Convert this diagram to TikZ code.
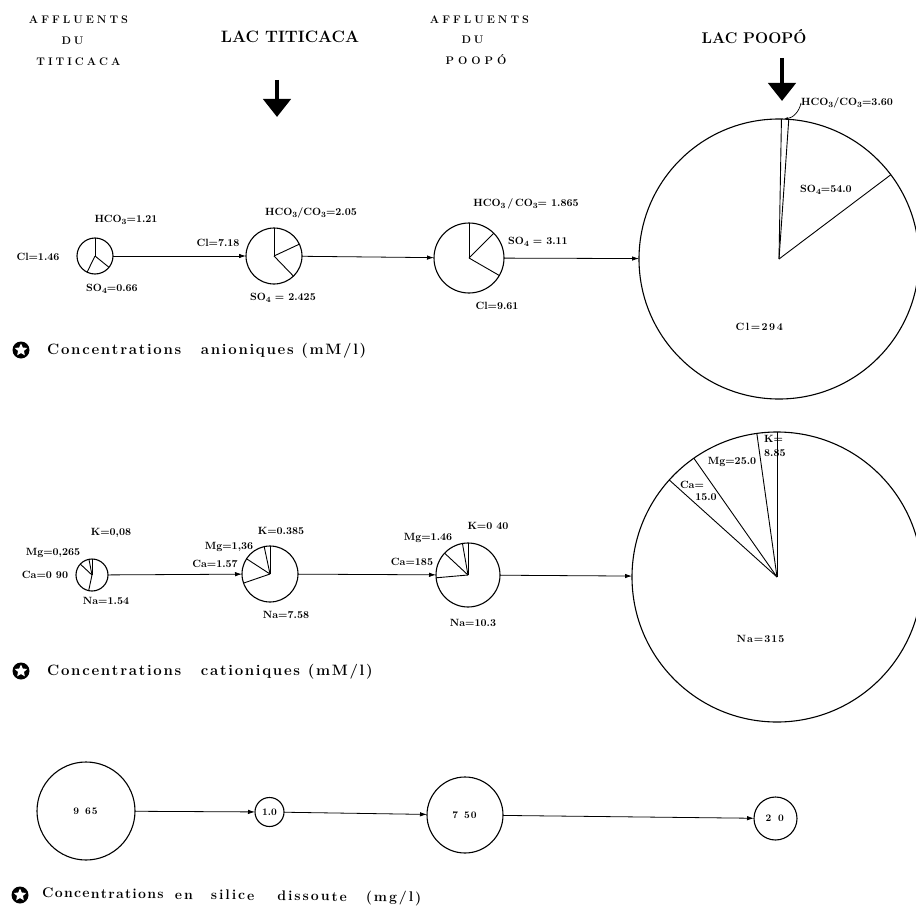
\documentclass[tikz,border=0pt]{standalone}
\usepackage{fontspec}
\usetikzlibrary{arrows.meta,shapes.geometric}
\newdimen\trkd
\newcommand\trk[2]{\trkd=#1\relax\trkloop#2\relax}
\def\trkloop#1{\ifx#1\relax\else#1\kern\trkd\expandafter\trkloop\fi}
\newcommand\lblf{\fontsize{10.5}{11}\selectfont\bfseries}
\newcommand\silf{\fontsize{10}{11}\selectfont\bfseries}
\newcommand\capf{\fontsize{15}{16}\selectfont\bfseries}
\newcommand\capg{\fontsize{14}{15}\selectfont\bfseries}
\newcommand\hdrf{\fontsize{11}{12}\selectfont\bfseries}
\newcommand\ttlf{\fontsize{16.5}{18}\selectfont\bfseries}
\newcommand\ttlg{\fontsize{15.5}{17}\selectfont\bfseries}
\newcommand\sbs[1]{\raisebox{-0.45ex}{\fontsize{8}{8}\selectfont #1}}
\begin{document}
\begin{tikzpicture}[x=1pt,y=-1pt,
  ring/.style={circle,draw,line width=1.1pt,inner sep=0pt,outer sep=0pt,minimum size=#1},
  pie/.style={line width=0.9pt},
  conn/.style={line width=0.8pt,-{Latex[length=7pt,width=4.5pt]}},
  lbl/.style={font=\lblf,inner sep=0pt},
  sil/.style={font=\silf,inner sep=0pt},
  captxt/.style={font=\capf,inner sep=0pt,anchor=west},
  hdr/.style={font=\hdrf,inner sep=0pt},
  ttl/.style={font=\ttlf,inner sep=0pt},
  bigarrow/.style={line width=4.5pt,-{Triangle[length=18pt,width=27pt]}},
  icon/.style={circle,fill=black,minimum size=17pt,inner sep=0pt},
  starw/.style={star,star points=5,star point ratio=2.1,fill=white,inner sep=0pt,minimum size=13pt}]
\useasboundingbox (0,0) rectangle (915,923);

% headers
\node[hdr] (h1a) at (80,20) {\trk{3pt}{AFFLUENTS}};
\node[hdr] (h1b) at (74,41) {\trk{3pt}{DU}};
\node[hdr] (h1c) at (80,62) {\trk{3pt}{TITICACA}};
\node[hdr] (h3a) at (481,20) {\trk{3pt}{AFFLUENTS}};
\node[hdr] (h3b) at (474,40) {\trk{3pt}{DU}};
\node[hdr] (h3c) at (478,60) {\trk{4pt}{POOPÓ}};
\node[ttl] (t1) at (290,37) {LAC TITICACA};
\node[ttl,font=\ttlg] (t2) at (754,37) {LAC POOPÓ};
\coordinate (ar1s) at (277,80);
\coordinate (ar1e) at (277,117);
\coordinate (ar2s) at (782,58);
\coordinate (ar2e) at (782,101);
\draw[bigarrow] (ar1s) -- (ar1e);
\draw[bigarrow] (ar2s) -- (ar2e);

% ===== anions =====
\node[ring=36pt] (a1) at (95,256) {};
\node[ring=56pt] (a2) at (274,256) {};
\node[ring=70pt] (a3) at (469,258) {};
\node[ring=280pt] (a4) at (779,259) {};
\foreach \a in {90,-39,244} \draw[pie] (a1.center) -- (a1.\a);
\foreach \a in {90,25,-46} \draw[pie] (a2.center) -- (a2.\a);
\foreach \a in {90,45,-30} \draw[pie] (a3.center) -- (a3.\a);
\foreach \a in {89.5,86,37} \draw[pie] (a4.center) -- (a4.\a);
\draw[conn] (a1) -- (a2);
\draw[conn] (a2) -- (a3);
\draw[conn] (a3) -- (a4);

\node[lbl] (a1h) at (126,220) {HCO\sbs{3}=1.21};
\node[lbl] (a1c) at (38,257) {Cl=1.46};
\node[lbl] (a1s) at (112,289) {SO\sbs{4}=0.66};
\node[lbl] (a2h) at (311,213) {HCO\sbs{3}/CO\sbs{3}=2.05};
\node[lbl] (a2c) at (218,243) {Cl=7.18};
\node[lbl] (a2s) at (283,298) {SO\sbs{4} = 2.425};
\node[lbl] (a3h) at (526,204) {HCO\sbs{3}\,/\,CO\sbs{3}= 1.865};
\node[lbl] (a3s) at (538,242) {SO\sbs{4} = 3.11};
\node[lbl] (a3c) at (497,306) {Cl=9.61};
\node[lbl,anchor=west] (a4h) at (801,103) {HCO\sbs{3}/CO\sbs{3}=3.60};
\node[lbl] (a4s) at (826,190) {SO\sbs{4}=54.0};
\node[lbl] (a4c) at (760,327) {\trk{1.5pt}{Cl=294}};
\draw[line width=0.7pt,-{Latex[length=4pt,width=3pt]}] (a4h.west) to[bend left=35] (a4.88);

\node[icon] (i1) at (21,350) {};
\node[starw] (i1s) at (i1) {};
\node[captxt] (k1) at (47,351) {\trk{1.7pt}{Concentrations}\hspace{18pt}\trk{1.7pt}{anioniques}\hspace{6pt}\trk{1.7pt}{(mM/l)}};

% ===== cations =====
\node[ring=32pt] (c1) at (92,575) {};
\node[ring=56pt] (c2) at (270,574) {};
\node[ring=64pt] (c3) at (468,575) {};
\node[ring=290pt] (c4) at (777,577) {};
\foreach \a in {90,101,137,258} \draw[pie] (c1.center) -- (c1.\a);
\foreach \a in {90,102.7,147.6,199.5} \draw[pie] (c2.center) -- (c2.\a);
\foreach \a in {90,100.3,137.8,185.3} \draw[pie] (c3.center) -- (c3.\a);
\foreach \a in {90,98,125,138} \draw[pie] (c4.center) -- (c4.\a);
\draw[conn] (c1) -- (c2);
\draw[conn] (c2) -- (c3);
\draw[conn] (c3) -- (c4);

\node[lbl] (c1k) at (111,533) {K=0,08};
\node[lbl] (c1m) at (53,553) {Mg=0,265};
\node[lbl] (c1c) at (45,575) {Ca=0 90};
\node[lbl] (c1n) at (106,601) {Na=1.54};
\node[lbl] (c2k) at (281,531) {K=0.385};
\node[lbl] (c2m) at (229,547) {Mg=1,36};
\node[lbl] (c2c) at (215,564) {Ca=1.57};
\node[lbl] (c2n) at (286,615) {Na=7.58};
\node[lbl] (c3k) at (488,526) {K=0 40};
\node[lbl] (c3m) at (428,538) {Mg=1.46};
\node[lbl] (c3c) at (412,562) {Ca=185};
\node[lbl] (c3n) at (473,623) {Na=10.3};
\node[lbl,anchor=west] (c4k) at (764,439) {K=};
\node[lbl,anchor=west] (c4kv) at (764,453) {8.85};
\node[lbl] (c4m) at (732,462) {Mg=25.0};
\node[lbl] (c4c) at (692,485) {Ca=};
\node[lbl] (c4cv) at (706,497) {15.0};
\node[lbl] (c4n) at (761,639) {\trk{1pt}{Na=315}};

\node[icon] (i2) at (21,671) {};
\node[starw] (i2s) at (i2) {};
\node[captxt] (k2) at (47,672) {\trk{1.7pt}{Concentrations}\hspace{18pt}\trk{1.7pt}{cationiques}\hspace{6pt}\trk{1.7pt}{(mM/l)}};

% ===== silica =====
\node[ring=98pt,sil] (s1) at (86,811) {\trk{1pt}{9~65}};
\node[ring=29pt,sil] (s2) at (269.5,812) {1.0};
\node[ring=76pt,sil] (s3) at (465,815) {\trk{1pt}{7~50}};
\node[ring=43pt,sil] (s4) at (775.5,818.5) {\trk{1.5pt}{2~0}};
\draw[conn] (s1) -- (s2);
\draw[conn] (s2) -- (s3);
\draw[conn] (s3) -- (s4);

\node[icon] (i3) at (20,895) {};
\node[starw] (i3s) at (i3) {};
\node[captxt,font=\capg,rotate=-0.7] (k3) at (42,894) {\trk{1.3pt}{Concentrations}\hspace{10pt}\trk{2pt}{en}\hspace{16pt}\trk{2pt}{silice}\hspace{21pt}\trk{2pt}{dissoute}\hspace{17pt}\trk{2pt}{(mg/l)}};
\end{tikzpicture}
\end{document}
